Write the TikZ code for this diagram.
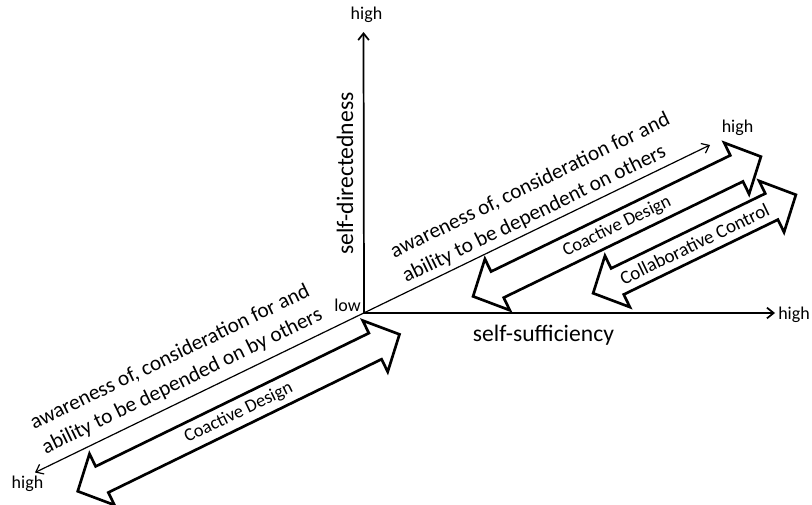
\documentclass[tikz,border=0pt]{standalone}
\usepackage{fontspec}
\setmainfont{Carlito}
\usetikzlibrary{arrows.meta}
\newcommand\hollowarrow[6]{%
  \begin{scope}[shift={#2}, rotate=#3]
    \draw[hollow] ({-#4},0) -- ({-#4+27},-28.5) -- ({-#4+27},-14.5) -- ({#4-27},-14.5)
      -- ({#4-27},-28.5) -- (#4,0) -- ({#4-27},28.5) -- ({#4-27},14.5)
      -- ({-#4+27},14.5) -- ({-#4+27},28.5) -- cycle;
    \node[arrlbl, font=\fontsize{#6}{16pt}\selectfont, rotate=#3] (#1) at (0,0) {#5};
  \end{scope}}
\begin{document}
\begin{tikzpicture}[x=0.75pt,y=-0.75pt,
  lbl/.style={inner sep=0pt, font=\fontsize{13.5pt}{16pt}\selectfont},
  axlbl/.style={inner sep=0pt, font=\fontsize{17.7pt}{21pt}\selectfont},
  diaglbl/.style={inner sep=0pt, font=\fontsize{16pt}{19pt}\selectfont, rotate=25.9, anchor=base west},
  barb/.tip={Straight Barb[length=5pt,width=8pt]},
  axisline/.style={line width=1.3pt, barb-barb},
  diagline/.style={line width=0.9pt, barb-barb},
  hollow/.style={draw, line width=2pt, fill=white},
  arrlbl/.style={inner sep=0pt},
]
\fill[white] (0,0) rectangle (812,504);
\useasboundingbox (0,0) rectangle (812,504);

\coordinate (O) at (364,313);
\coordinate (ytip) at (363.5,32);
\coordinate (xtip) at (775,313);
\coordinate (dtip) at (710,145);
\coordinate (dlow) at (35,472.5);

\draw[axisline] (ytip) -- (O) -- (xtip);
\draw[diagline] (dlow) -- (dtip);

\hollowarrow{cd1}{(617,226.5)}{25.9}{160}{Coactive Design}{13.8pt}
\hollowarrow{cc}{(694.5,244)}{25.9}{112.7}{Collaborative Control}{14.3pt}
\hollowarrow{cd2}{(238.6,412.8)}{26}{179}{Coactive Design}{13.8pt}

\node[lbl, anchor=base] (hy) at (366.5,19.5) {high};
\node[lbl, anchor=base west] (hx) at (778,319) {high};
\node[lbl, anchor=base] (hd) at (737.5,132) {high};
\node[lbl, anchor=base] (hl) at (27.5,488) {high};
\node[lbl, anchor=base] (low) at (347.5,311.7) {low};
\node[axlbl, rotate=90] (sd) at (345,173.5) {self-directedness};
\node[axlbl, anchor=base] (ss) at (543.4,341.7) {self-sufficiency};

\begin{scope}[shift={(O)}, rotate=25.9]
  \node[diaglbl] (u1) at (51,-36) {awareness of, consideration for and};
  \node[diaglbl] (u2) at (51,-8.5) {ability to be dependent on others};
  \node[diaglbl] (l1) at (-348,-39) {awareness of, consideration for and};
  \node[diaglbl] (l2) at (-348,-12) {ability to be depended on by others};
\end{scope}
\end{tikzpicture}
\end{document}
